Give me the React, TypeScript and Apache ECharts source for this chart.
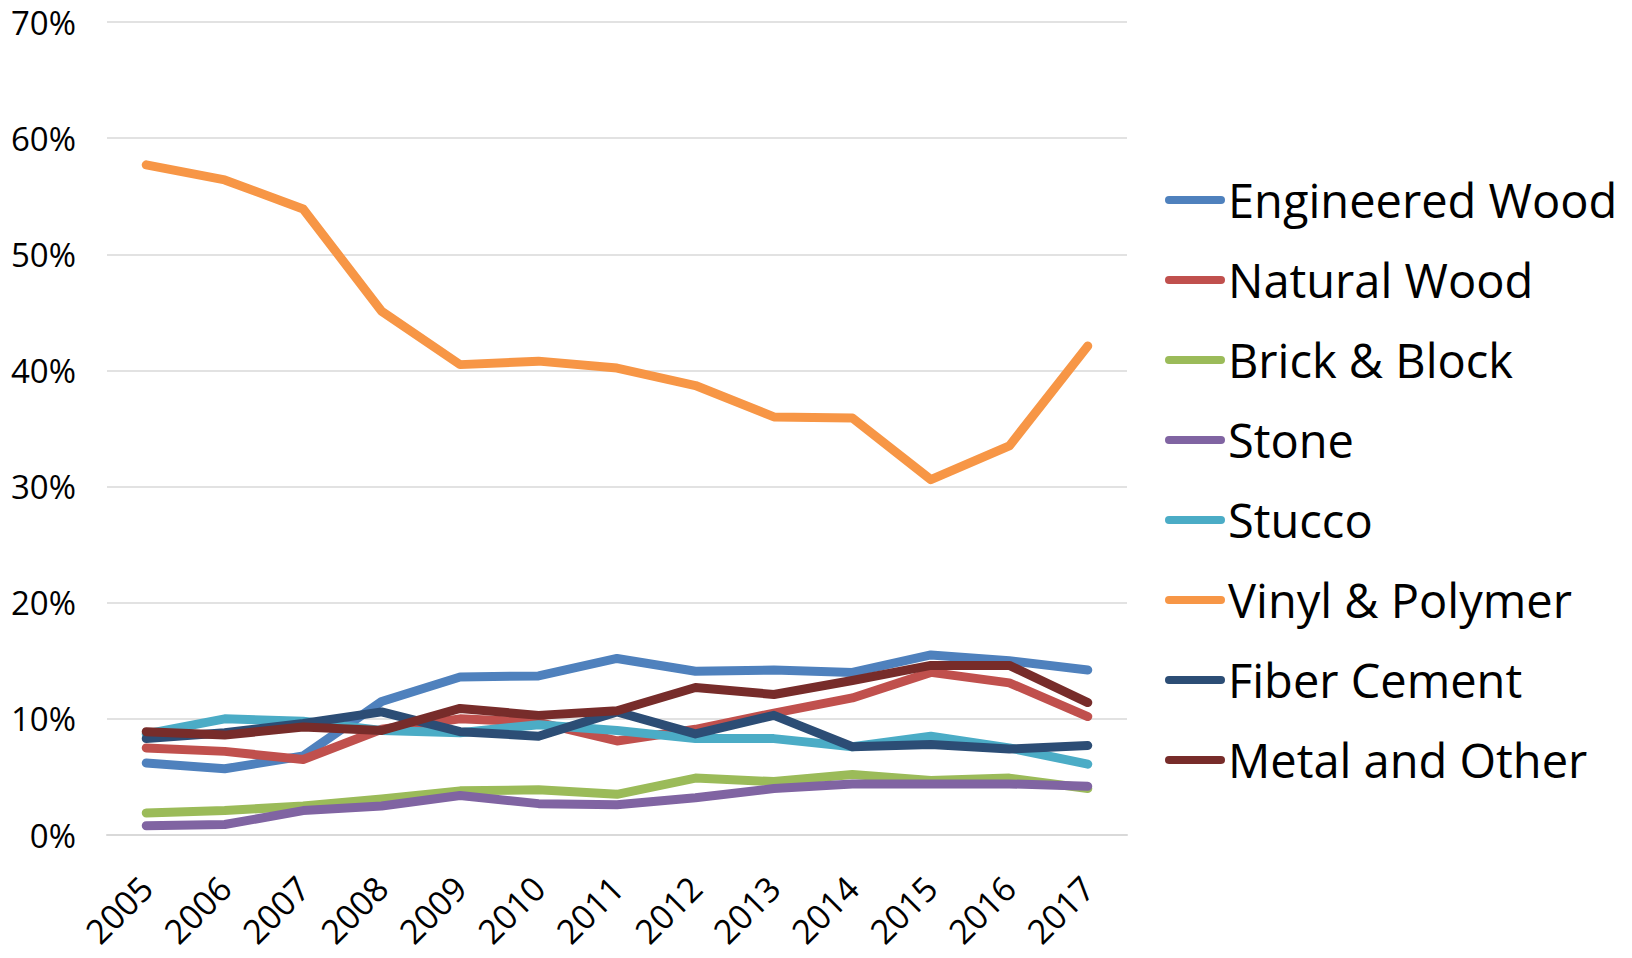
import React, { useEffect, useRef } from "react";
import * as echarts from "echarts";

const years = ["2005", "2006", "2007", "2008", "2009", "2010", "2011", "2012", "2013", "2014", "2015", "2016", "2017"];
const yTicks = [0, 10, 20, 30, 40, 50, 60, 70];

const engineeredWood = [6.2, 5.7, 6.8, 11.5, 13.6, 13.7, 15.2, 14.1, 14.2, 14.0, 15.5, 15.0, 14.2];
const naturalWood = [7.5, 7.2, 6.5, 9.1, 10.0, 9.7, 8.1, 9.1, 10.5, 11.8, 14.0, 13.1, 10.2];
const brickBlock = [1.9, 2.1, 2.5, 3.1, 3.8, 3.9, 3.5, 4.9, 4.6, 5.2, 4.7, 4.9, 4.0];
const stone = [0.8, 0.9, 2.1, 2.5, 3.4, 2.7, 2.6, 3.2, 4.0, 4.4, 4.4, 4.4, 4.2];
const stucco = [8.7, 10.0, 9.8, 9.0, 8.8, 9.5, 9.0, 8.3, 8.3, 7.6, 8.5, 7.5, 6.1];
const vinylPolymer = [57.7, 56.4, 53.9, 45.1, 40.5, 40.8, 40.2, 38.7, 36.0, 35.9, 30.6, 33.5, 42.1];
const fiberCement = [8.3, 8.8, 9.6, 10.6, 8.9, 8.5, 10.6, 8.7, 10.3, 7.6, 7.8, 7.4, 7.7];
const metalOther = [8.9, 8.6, 9.3, 9.0, 10.9, 10.3, 10.7, 12.7, 12.1, 13.3, 14.6, 14.6, 11.4];

const seriesNames = ["Engineered Wood", "Natural Wood", "Brick & Block", "Stone", "Stucco", "Vinyl & Polymer", "Fiber Cement", "Metal and Other"];
const seriesData = [engineeredWood, naturalWood, brickBlock, stone, stucco, vinylPolymer, fiberCement, metalOther];
const colors = ["#4F81BD", "#C0504D", "#9BBB59", "#8064A2", "#4BACC6", "#F79646", "#2C4D75", "#772C2A"];

const FONT = "'Open Sans', sans-serif";
const CAPSULE = "path://M4,0 L56,0 A4,4 0 0 1 56,8 L4,8 A4,4 0 0 1 4,0 Z";

export default function App() {
  const ref = useRef<HTMLDivElement>(null);
  useEffect(() => {
    if (!ref.current) return;
    const chart = echarts.init(ref.current, undefined, { renderer: "svg" });
    chart.setOption({
      animation: false,
      backgroundColor: "#ffffff",
      grid: { left: 107, right: 505, top: 22, bottom: 123, containLabel: false },
      legend: {
        orient: "vertical",
        left: 1160,
        top: 170,
        itemWidth: 60,
        itemHeight: 8,
        itemGap: 30,
        icon: CAPSULE,
        itemStyle: { borderWidth: 0 },
        textStyle: { fontFamily: FONT, fontSize: 47, color: "#000", lineHeight: 50, padding: [0, 0, 0, -2] },
        data: seriesNames,
      },
      xAxis: {
        type: "category",
        data: years,
        boundaryGap: true,
        axisLine: { show: true, lineStyle: { color: "#D9D9D9", width: 2 } },
        axisTick: { show: false },
        axisLabel: { rotate: 45, fontFamily: FONT, fontSize: 34, color: "#000", margin: 47, interval: 0 },
      },
      yAxis: {
        type: "value",
        min: yTicks[0],
        max: yTicks[yTicks.length - 1],
        interval: 10,
        axisLine: { show: false },
        axisTick: { show: false },
        splitLine: { lineStyle: { color: "#D9D9D9", width: 1.5 } },
        axisLabel: { fontFamily: FONT, fontSize: 33, color: "#000", margin: 31, formatter: (v: number) => v + "%" },
      },
      series: seriesNames.map((name, i) => ({
        name,
        type: "line",
        data: seriesData[i],
        showSymbol: false,
        symbol: "none",
        color: colors[i],
        lineStyle: { width: 9, color: colors[i], cap: "round", join: "round" },
        itemStyle: { color: colors[i] },
      })),
    });
    return () => chart.dispose();
  }, []);
  return <div ref={ref} style={{ position: "absolute", left: 0, top: 0, width: 1632, height: 958 }} />;
}
